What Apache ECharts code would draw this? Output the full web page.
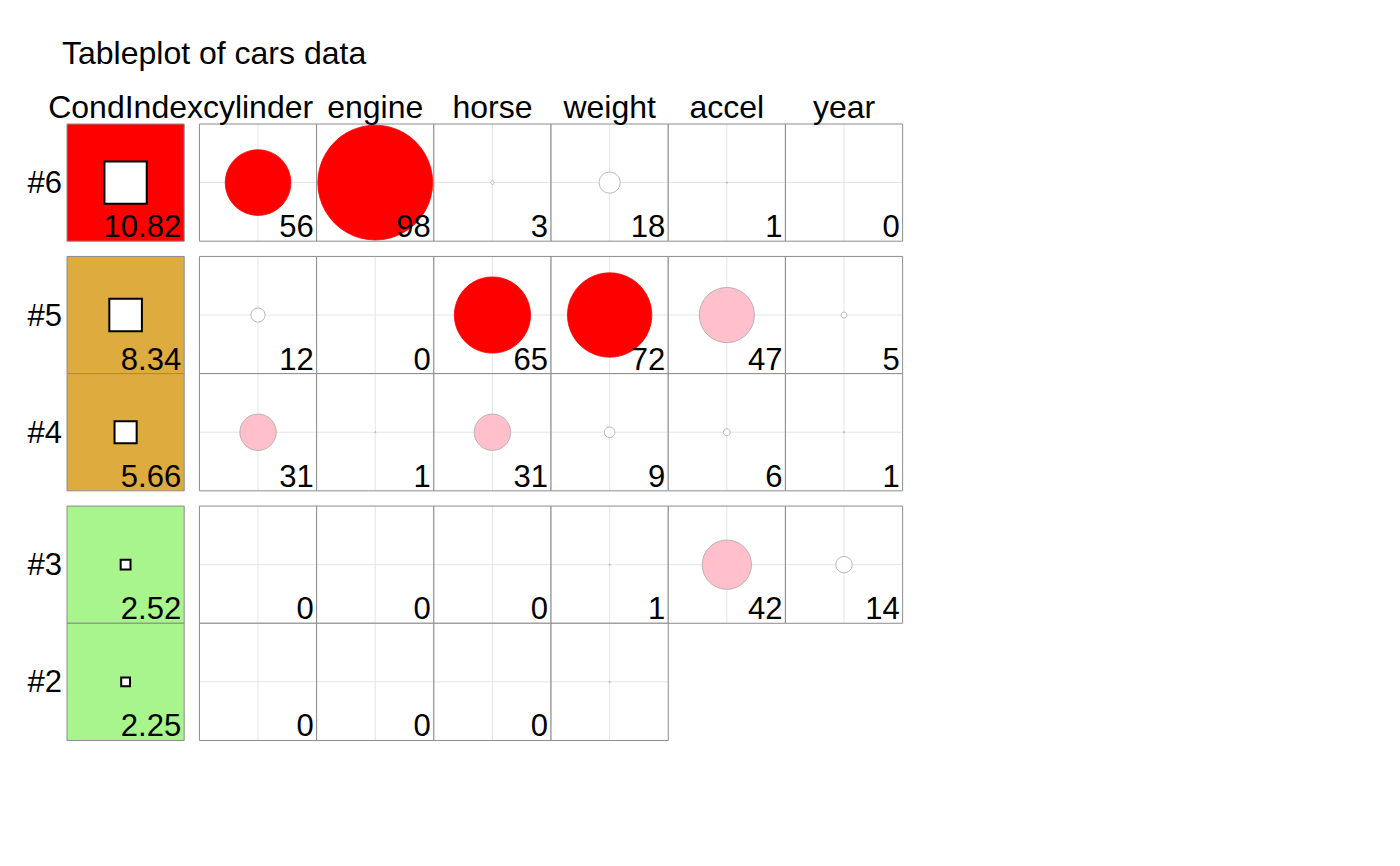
<!DOCTYPE html>
<html>
<head>
<meta charset="utf-8">
<script src="https://cdn.jsdelivr.net/npm/echarts@6/dist/echarts.min.js"></script>
<style>html,body{margin:0;padding:0;background:#fff}#chart{width:1400px;height:866px}</style>
</head>
<body>
<div id="chart"></div>
<script>
// ---- data ----
const chartTitle = 'Tableplot of cars data';
const condHeader = 'CondIndex';
const rowLabels = ['#6', '#5', '#4', '#3', '#2'];
const condIndex = [10.82, 8.34, 5.66, 2.52, 2.25];
const varNames = ['cylinder', 'engine', 'horse', 'weight', 'accel', 'year'];
const propRow6 = [56, 98, 3, 18, 1, 0];
const propRow5 = [12, 0, 65, 72, 47, 5];
const propRow4 = [31, 1, 31, 9, 6, 1];
const propRow3 = [0, 0, 0, 1, 42, 14];
const propRow2 = [0, 0, 0, 1, null, null];
const unlabeledCells = [['#2', 'weight']];
const condMax = 30;
const propBreaks = [0, 20, 50, 100];
const propCols = ['#FFFFFF', '#FFC0CB', '#FF0000'];
const condBreaks = [0, 5, 10, 1000];
const condCols = ['#A8F48D', '#DDAB3E', '#FF0000'];

// ---- layout helpers ----
const G = 0.13;
const FONT = '"Liberation Sans", Arial, Helvetica, sans-serif';
const FS_HEAD = 32;
const FS_CELL = 31;
function colStart(c) { return c === 0 ? 0 : c + G; }
function rowStart(r) { return r + (r >= 1 ? G : 0) + (r >= 3 ? G : 0); }
function pickColor(v, breaks, cols) {
  for (let i = 0; i < cols.length; i++) {
    if (v <= breaks[i + 1]) return cols[i];
  }
  return cols[cols.length - 1];
}
const propRows = [propRow6, propRow5, propRow4, propRow3, propRow2];

const cellData = [];
rowLabels.forEach((rl, r) => {
  cellData.push({ col: 0, row: r, v: condIndex[r], label: condIndex[r].toFixed(2), kind: 'cond' });
  propRows[r].forEach((v, j) => {
    if (v === null) return;
    const hidden = unlabeledCells.some(u => u[0] === rl && u[1] === varNames[j]);
    cellData.push({ col: j + 1, row: r, v: v, label: hidden ? '' : String(v), kind: 'prop' });
  });
});

const textData = [];
[condHeader].concat(varNames).forEach((name, c) => textData.push({ kind: 'head', col: c, text: name }));
rowLabels.forEach((name, r) => textData.push({ kind: 'row', row: r, text: name }));

const BORDER = '#8C8C8C';

function renderCell(params, api) {
  const d = cellData[params.dataIndex];
  const x0 = colStart(d.col), y0 = rowStart(d.row);
  const p0 = api.coord([x0, y0]);
  const p1 = api.coord([x0 + 1, y0 + 1]);
  const x = p0[0], y = p0[1], w = p1[0] - p0[0], h = p1[1] - p0[1];
  const cx = x + w / 2, cy = y + h / 2;
  const children = [];
  if (d.kind === 'cond') {
    children.push({ type: 'rect', shape: { x: x, y: y, width: w, height: h },
      style: { fill: pickColor(d.v, condBreaks, condCols), stroke: BORDER, lineWidth: 1 } });
    const side = api.size([d.v / condMax, 0])[0];
    children.push({ type: 'rect', shape: { x: cx - side / 2, y: cy - side / 2, width: side, height: side },
      style: { fill: '#FFFFFF', stroke: '#000000', lineWidth: 2 } });
  } else {
    children.push({ type: 'rect', shape: { x: x, y: y, width: w, height: h }, style: { fill: '#FFFFFF' } });
    children.push({ type: 'line', shape: { x1: x, y1: cy, x2: x + w, y2: cy }, style: { stroke: '#E5E5E5', lineWidth: 1 } });
    children.push({ type: 'line', shape: { x1: cx, y1: y, x2: cx, y2: y + h }, style: { stroke: '#E5E5E5', lineWidth: 1 } });
    if (d.v > 0) {
      const rad = api.size([d.v / 100, 0])[0] / 2;
      const col = pickColor(d.v, propBreaks, propCols);
      children.push({ type: 'circle', shape: { cx: cx, cy: cy, r: rad },
        style: { fill: col, stroke: col === '#FF0000' ? '#FF0000' : '#A6A6A6', lineWidth: 0.8 } });
    }
    children.push({ type: 'rect', shape: { x: x, y: y, width: w, height: h },
      style: { fill: 'none', stroke: BORDER, lineWidth: 1 } });
  }
  if (d.label) {
    children.push({ type: 'text', style: { x: x + w - 3, y: y + h + 1, text: d.label,
      align: 'right', verticalAlign: 'bottom', fill: '#000', fontSize: FS_CELL, fontFamily: FONT } });
  }
  return { type: 'group', children: children };
}

function renderText(params, api) {
  const d = textData[params.dataIndex];
  if (d.kind === 'head') {
    const p = api.coord([colStart(d.col) + 0.5, 0]);
    return { type: 'text', style: { x: p[0], y: p[1] - 1, text: d.text, align: 'center', verticalAlign: 'bottom',
      fill: '#000', fontSize: FS_HEAD, fontFamily: FONT } };
  }
  const p = api.coord([0, rowStart(d.row) + 0.5]);
  return { type: 'text', style: { x: p[0] - 5, y: p[1], text: d.text, align: 'right', verticalAlign: 'middle',
    fill: '#000', fontSize: FS_CELL, fontFamily: FONT } };
}

const unit = 117.2;
const chart = echarts.init(document.getElementById('chart'), null, { renderer: 'svg' });
chart.setOption({
  backgroundColor: '#FFFFFF',
  animation: false,
  title: { text: chartTitle, left: 57, top: 32,
    textStyle: { fontSize: FS_HEAD, fontWeight: 'normal', color: '#000', fontFamily: FONT } },
  grid: { left: 67, top: 124, width: unit * (7 + G), height: unit * (5 + 2 * G) },
  xAxis: { type: 'value', min: 0, max: 7 + G, show: false, splitLine: { show: false } },
  yAxis: { type: 'value', min: 0, max: 5 + 2 * G, inverse: true, show: false, splitLine: { show: false } },
  series: [
    { type: 'custom', coordinateSystem: 'cartesian2d', renderItem: renderCell, clip: false, silent: true,
      data: cellData.map(d => [d.col, d.row, d.v]) },
    { type: 'custom', coordinateSystem: 'cartesian2d', renderItem: renderText, clip: false, silent: true,
      data: textData.map((d, i) => [i, 0]) }
  ]
});
</script>
</body>
</html>
